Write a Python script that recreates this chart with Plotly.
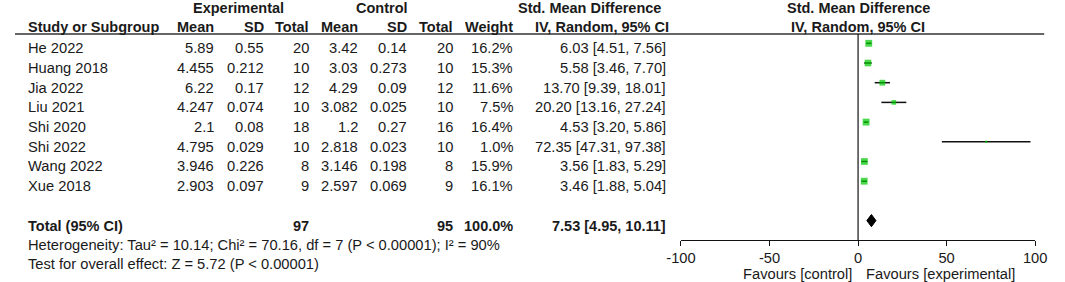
import plotly.graph_objects as go

# ---------------- data ----------------
studies = ["He 2022", "Huang 2018", "Jia 2022", "Liu 2021", "Shi 2020", "Shi 2022", "Wang 2022", "Xue 2018"]
exp_mean = ["5.89", "4.455", "6.22", "4.247", "2.1", "4.795", "3.946", "2.903"]
exp_sd = ["0.55", "0.212", "0.17", "0.074", "0.08", "0.029", "0.226", "0.097"]
exp_n = [20, 10, 12, 10, 18, 10, 8, 9]
ctl_mean = ["3.42", "3.03", "4.29", "3.082", "1.2", "2.818", "3.146", "2.597"]
ctl_sd = ["0.14", "0.273", "0.09", "0.025", "0.27", "0.023", "0.198", "0.069"]
ctl_n = [20, 10, 12, 10, 16, 10, 8, 9]
weight = [16.2, 15.3, 11.6, 7.5, 16.4, 1.0, 15.9, 16.1]
smd = [6.03, 5.58, 13.70, 20.20, 4.53, 72.35, 3.56, 3.46]
ci_lo = [4.51, 3.46, 9.39, 13.16, 3.20, 47.31, 1.83, 1.88]
ci_hi = [7.56, 7.70, 18.01, 27.24, 5.86, 97.38, 5.29, 5.04]

total_label = "Total (95% CI)"
total_exp_n = 97
total_ctl_n = 95
total_weight = 100.0
total_smd = 7.53
total_lo = 4.95
total_hi = 10.11

heterogeneity = "Heterogeneity: Tau\u00b2 = 10.14; Chi\u00b2 = 70.16, df = 7 (P < 0.00001); I\u00b2 = 90%"
overall = "Test for overall effect: Z = 5.72 (P < 0.00001)"

tick_vals = [-100, -50, 0, 50, 100]
tick_text = ["-100", "-50", "0", "50", "100"]
favours_left = "Favours [control]"
favours_right = "Favours [experimental]"

# ---------------- layout geometry ----------------
W, H = 1065, 282
ROW0_PX, ROW_STEP = 43.3, 19.7          # pixel y of first study row, row pitch
FONT = "Liberation Sans, Arial, sans-serif"
FS = 14.7
FSB = 14.5
TXT = "#1a1a1a"
TEXT_OFF = 0.25

def row_of_px(py):
    return (py - ROW0_PX) / ROW_STEP

n = len(studies)
rows = list(range(n))
total_row = n + 1
het_row = n + 2
test_row = n + 3
axis_row = row_of_px(240)
header_line_row = row_of_px(34)

fig = go.Figure()

# study estimates with CI (square area proportional to weight)
sizes = [max(2.2, 1.7 * w ** 0.5) for w in weight]
fig.add_trace(go.Scatter(
    x=smd, y=rows, mode="markers",
    marker=dict(symbol="square", size=sizes, color="#00c800", line=dict(width=0)),
    error_x=dict(type="data", symmetric=False,
                 array=[h - e for h, e in zip(ci_hi, smd)],
                 arrayminus=[e - l for e, l in zip(smd, ci_lo)],
                 width=0, thickness=1.5, color="#111111"),
    hoverinfo="skip", showlegend=False))

# pooled diamond
dh = 0.31
fig.add_trace(go.Scatter(
    x=[total_lo, total_smd, total_hi, total_smd, total_lo],
    y=[total_row, total_row - dh, total_row, total_row + dh, total_row],
    mode="lines", fill="toself", fillcolor="black",
    line=dict(color="black", width=1), hoverinfo="skip", showlegend=False))

annotations = []

def txt(xpx, yrow, text, anchor="right", bold=False, size=None):
    annotations.append(dict(
        x=xpx / W, xref="paper", y=yrow, yref="y",
        text=f"<b>{text}</b>" if bold else text,
        showarrow=False, xanchor=anchor, yanchor="middle",
        borderpad=0, borderwidth=0,
        font=dict(family=FONT, size=size or (FSB if bold else FS), color=TXT)))

# column edges (px)
C_NAME = 13.5
C_EM, C_ESD, C_EN = 204, 255, 301.7
C_CM, C_CSD, C_CN = 352.3, 402.3, 449.3
C_W, C_CI = 510.7, 668.3

# headers
h1 = -1.8
h2 = -0.85
txt(229, h1, "Experimental", "center", True)
txt(377, h1, "Control", "center", True)
txt(589.5, h1, "Std. Mean Difference", "center", True)
txt(865, h1, "Std. Mean Difference", "center", True)
txt(C_NAME, h2, "Study or Subgroup", "left", True)
txt(C_EM, h2, "Mean", "right", True)
txt(C_ESD, h2, "SD", "right", True)
txt(C_EN, h2, "Total", "right", True)
txt(C_CM, h2, "Mean", "right", True)
txt(C_CSD, h2, "SD", "right", True)
txt(C_CN, h2, "Total", "right", True)
txt(C_W, h2, "Weight", "right", True)
txt(602.5, h2, "IV, Random, 95% CI", "center", True)
txt(865, h2, "IV, Random, 95% CI", "center", True)

# study rows
for i in range(n):
    y = rows[i] + TEXT_OFF
    txt(C_NAME, y, studies[i], "left")
    txt(C_EM, y, exp_mean[i])
    txt(C_ESD, y, exp_sd[i])
    txt(C_EN, y, str(exp_n[i]))
    txt(C_CM, y, ctl_mean[i])
    txt(C_CSD, y, ctl_sd[i])
    txt(C_CN, y, str(ctl_n[i]))
    txt(C_W, y, f"{weight[i]:.1f}%")
    txt(C_CI, y, f"{smd[i]:.2f} [{ci_lo[i]:.2f}, {ci_hi[i]:.2f}]")

# total row
y = total_row + TEXT_OFF
txt(C_NAME, y, total_label, "left", True)
txt(C_EN, y, str(total_exp_n), "right", True)
txt(C_CN, y, str(total_ctl_n), "right", True)
txt(C_W, y, f"{total_weight:.1f}%", "right", True)
txt(C_CI, y, f"{total_smd:.2f} [{total_lo:.2f}, {total_hi:.2f}]", "right", True)

txt(C_NAME, het_row + TEXT_OFF, heterogeneity, "left")
txt(C_NAME, test_row + TEXT_OFF - 0.03, overall, "left")

# favours labels
fav_row = row_of_px(273.5)
txt(859, fav_row, favours_left, "right")
txt(872.7, fav_row, favours_right, "left")

shapes = [
    # header rule
    dict(type="line", xref="paper", yref="y", x0=0, x1=1056 / W,
         y0=header_line_row, y1=header_line_row, line=dict(color="#333333", width=1.6)),
    # line of no effect
    dict(type="line", xref="x", yref="y", x0=0, x1=0,
         y0=header_line_row, y1=axis_row, line=dict(color="#111111", width=1.2)),
]

x_dom = [683.3 / W, 1046.7 / W]
axis_pos = 1 - 240 / H
common_x = dict(domain=x_dom, range=[-100, 100], showgrid=False, zeroline=False,
                tickvals=tick_vals, ticktext=tick_text, anchor="free", position=axis_pos,
                ticklen=4.5, tickwidth=1.2, tickcolor="#111111")

fig.update_layout(
    width=W, height=H, autosize=False,
    margin=dict(l=0, r=0, t=0, b=0),
    paper_bgcolor="white", plot_bgcolor="white",
    showlegend=False,
    xaxis=dict(**common_x, showline=True, linecolor="#111111", linewidth=1.2,
               ticks="outside", ticklabelstandoff=0,
               tickfont=dict(family=FONT, size=FS, color=TXT)),
    xaxis2=dict(**common_x, overlaying="x", showline=False, ticks="inside",
                showticklabels=False),
    yaxis=dict(domain=[0, 1], range=[row_of_px(H), row_of_px(0)], visible=False,
               showgrid=False, zeroline=False),
    annotations=annotations,
    shapes=shapes,
)

fig.write_html(
    "out.html",
    config={"displayModeBar": False, "responsive": False},
    post_script=("document.documentElement.style.overflow='hidden';"
                 "document.body.style.overflow='hidden';"
                 "document.body.style.margin='0';document.body.style.padding='0';"),
)
